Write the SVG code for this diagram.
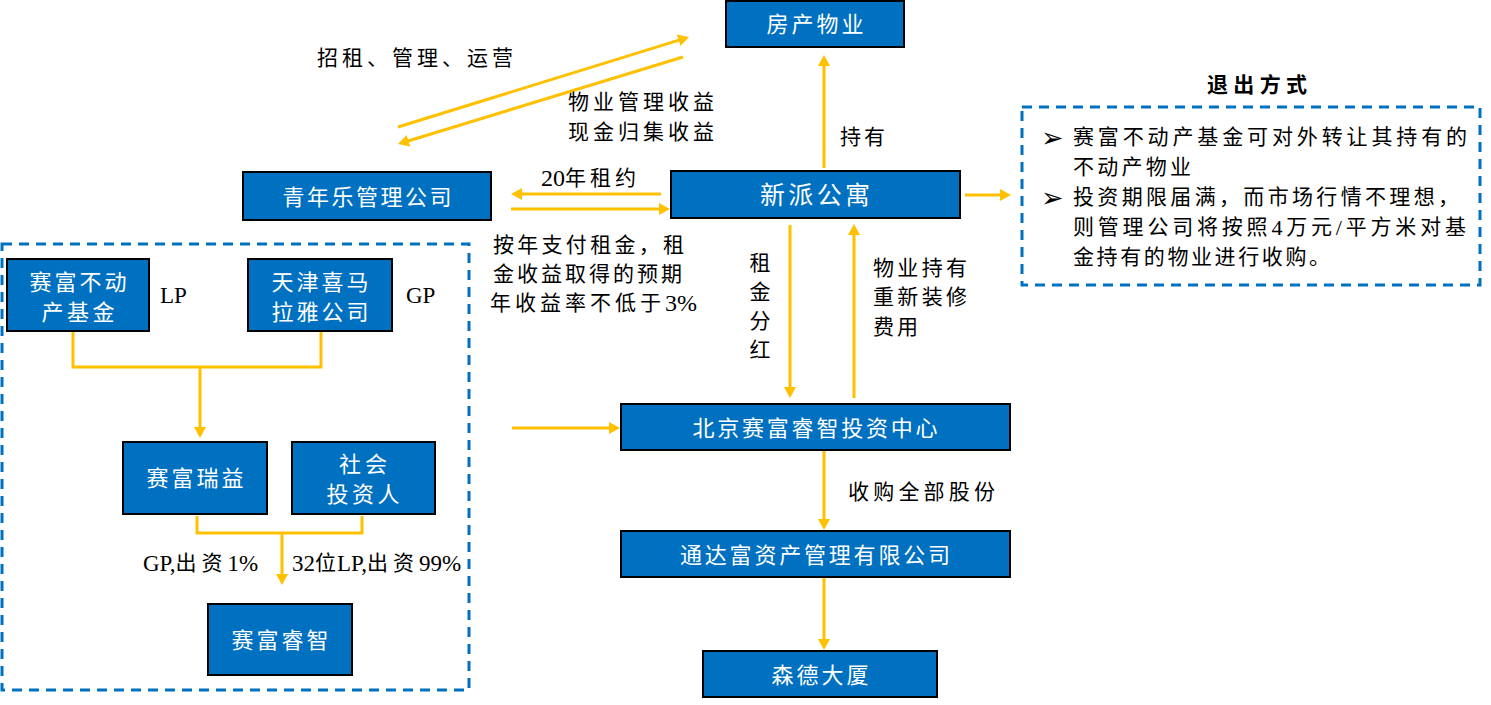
<svg xmlns="http://www.w3.org/2000/svg" width="1491" height="705" viewBox="0 0 1491 705">
<style>
.node{fill:#0070C0;stroke:#000;stroke-width:2}
.nt{fill:#fff;font-family:"Liberation Serif","Noto Sans CJK SC",serif;font-size:22px;text-anchor:middle;dominant-baseline:central}
.lb{fill:#000;font-family:"Liberation Serif","Noto Sans CJK SC",serif;font-size:21px;dominant-baseline:central}
.lat{fill:#000;font-family:"Liberation Serif",serif;font-size:23px;dominant-baseline:central}
.bul{fill:#000;font-family:"DejaVu Sans",sans-serif;font-size:27px;dominant-baseline:central}
.cj{letter-spacing:4px}
.conn{stroke:#FFC000;stroke-width:3;fill:none}
.arr{marker-end:url(#ah)}
.dash{fill:none;stroke:#0070C0;stroke-width:3;stroke-dasharray:10 7}
</style>
<defs>
<marker id="ah" markerUnits="userSpaceOnUse" markerWidth="12" markerHeight="12" refX="3" refY="6" orient="auto">
<path d="M0,0 L11,6 L0,12 z" fill="#FFC000"/>
</marker>
</defs>
<rect width="1491" height="705" fill="#fff"/>

<g id="fund-box">
<rect class="dash" x="2" y="244" width="467" height="446"/>
</g>
<g id="exit-box">
<rect class="dash" x="1022" y="107" width="458" height="178"/>
<text class="lb" x="1207" y="85" textLength="100" lengthAdjust="spacing" style="font-weight:bold">退出方式</text>
<text class="bul" x="1041" y="137">➢</text>
<text class="lb" x="1073" y="137" textLength="394" lengthAdjust="spacing">赛富不动产基金可对外转让其持有的</text>
<text class="lb" x="1073" y="167" textLength="118" lengthAdjust="spacing">不动产物业</text>
<text class="bul" x="1041" y="197">➢</text>
<text class="lb" x="1073" y="197" textLength="386" lengthAdjust="spacing">投资期限届满，而市场行情不理想，</text>
<text class="lb" x="1073" y="227" letter-spacing="3.8">则管理公司将按照<tspan font-size="22">4</tspan>万元<tspan font-size="22">/</tspan>平方米对基</text>
<text class="lb" x="1073" y="257" textLength="257" lengthAdjust="spacing">金持有的物业进行收购。</text>
</g>

<g id="connectors">
<line class="conn arr" x1="398" y1="127" x2="681.4" y2="39.4"/>
<line class="conn arr" x1="683" y1="57" x2="405.6" y2="141.7"/>
<line class="conn arr" x1="824" y1="168" x2="824" y2="63"/>
<line class="conn arr" x1="661" y1="194" x2="519" y2="194"/>
<line class="conn arr" x1="511" y1="209" x2="662" y2="209"/>
<line class="conn arr" x1="965" y1="195" x2="1003" y2="195"/>
<line class="conn arr" x1="790" y1="225" x2="790" y2="390"/>
<line class="conn arr" x1="854" y1="398" x2="854" y2="232"/>
<line class="conn arr" x1="512" y1="428" x2="612" y2="428"/>
<line class="conn arr" x1="824" y1="451" x2="824" y2="522"/>
<line class="conn arr" x1="824" y1="577" x2="824" y2="642"/>
<polyline class="conn" points="73,331 73,367 321,367 321,331"/>
<line class="conn arr" x1="200" y1="367" x2="200" y2="430"/>
<polyline class="conn" points="197,516 197,533 362,533 362,516"/>
<line class="conn arr" x1="282" y1="533" x2="282" y2="577"/>
</g>

<g id="labels">
<text class="lb" x="317" y="58" textLength="196" lengthAdjust="spacing">招租、管理、运营</text>
<text class="lb" x="568" y="102" textLength="146" lengthAdjust="spacing">物业管理收益</text>
<text class="lb" x="568" y="132" textLength="146" lengthAdjust="spacing">现金归集收益</text>
<text class="lb" x="840" y="137" textLength="45" lengthAdjust="spacing">持有</text>
<text class="lb" x="541" y="178" style="font-size:24px">20<tspan class="cj" font-size="21">年租约</tspan></text>
<text class="lb" x="493" y="245" textLength="191" lengthAdjust="spacing">按年支付租金，租</text>
<text class="lb" x="493" y="274" textLength="189" lengthAdjust="spacing">金收益取得的预期</text>
<text class="lb" x="490" y="303"><tspan letter-spacing="4">年收益率不低于</tspan><tspan font-size="24">3%</tspan></text>
<text class="lb" x="760" y="263" text-anchor="middle">租</text>
<text class="lb" x="760" y="292" text-anchor="middle">金</text>
<text class="lb" x="760" y="321" text-anchor="middle">分</text>
<text class="lb" x="760" y="350" text-anchor="middle">红</text>
<text class="lb" x="873" y="268" textLength="94" lengthAdjust="spacing">物业持有</text>
<text class="lb" x="873" y="297" textLength="94" lengthAdjust="spacing">重新装修</text>
<text class="lb" x="873" y="327" textLength="45" lengthAdjust="spacing">费用</text>
<text class="lb" x="848" y="492" textLength="147" lengthAdjust="spacing">收购全部股份</text>
<text class="lat" x="160" y="295">LP</text>
<text class="lat" x="406" y="295">GP</text>
<text class="lb" x="143" y="563" style="font-size:23px">GP,<tspan font-size="21" letter-spacing="5">出资</tspan>1%</text>
<text class="lb" x="292" y="563" style="font-size:23px">32<tspan font-size="21" letter-spacing="1">位</tspan>LP,<tspan font-size="21" letter-spacing="5">出资</tspan>99%</text>
</g>

<g id="n-fangchan">
<rect class="node" x="726" y="1" width="178" height="46"/>
<text class="nt" x="815" y="24" textLength="97" lengthAdjust="spacing">房产物业</text>
</g>
<g id="n-qingnianle">
<rect class="node" x="243" y="172" width="248" height="48"/>
<text class="nt" x="367" y="197" textLength="169" lengthAdjust="spacing">青年乐管理公司</text>
</g>
<g id="n-xinpai">
<rect class="node" x="671" y="171" width="289" height="47"/>
<text class="nt" x="815" y="195" style="font-size:25px" textLength="110" lengthAdjust="spacing">新派公寓</text>
</g>
<g id="n-saifu-fund">
<rect class="node" x="7" y="259" width="142" height="72"/>
<text class="nt" x="78" y="282" textLength="97" lengthAdjust="spacing">赛富不动</text>
<text class="nt" x="78" y="312" textLength="73" lengthAdjust="spacing">产基金</text>
</g>
<g id="n-tianjin">
<rect class="node" x="248" y="259" width="144" height="72"/>
<text class="nt" x="320" y="282" textLength="97" lengthAdjust="spacing">天津喜马</text>
<text class="nt" x="320" y="312" textLength="97" lengthAdjust="spacing">拉雅公司</text>
</g>
<g id="n-ruiyi">
<rect class="node" x="123" y="442" width="144" height="72"/>
<text class="nt" x="195" y="478" textLength="97" lengthAdjust="spacing">赛富瑞益</text>
</g>
<g id="n-shehui">
<rect class="node" x="292" y="442" width="143" height="72"/>
<text class="nt" x="363" y="464" textLength="48" lengthAdjust="spacing">社会</text>
<text class="nt" x="363" y="494" textLength="73" lengthAdjust="spacing">投资人</text>
</g>
<g id="n-ruizhi">
<rect class="node" x="208" y="604" width="144" height="71"/>
<text class="nt" x="280" y="640" textLength="97" lengthAdjust="spacing">赛富睿智</text>
</g>
<g id="n-beijing">
<rect class="node" x="621" y="404" width="389" height="46"/>
<text class="nt" x="815" y="428" textLength="245" lengthAdjust="spacing">北京赛富睿智投资中心</text>
</g>
<g id="n-tongda">
<rect class="node" x="621" y="531" width="389" height="46"/>
<text class="nt" x="815" y="555" textLength="270" lengthAdjust="spacing">通达富资产管理有限公司</text>
</g>
<g id="n-sende">
<rect class="node" x="703" y="651" width="234" height="46"/>
<text class="nt" x="820" y="675" textLength="97" lengthAdjust="spacing">森德大厦</text>
</g>
</svg>
